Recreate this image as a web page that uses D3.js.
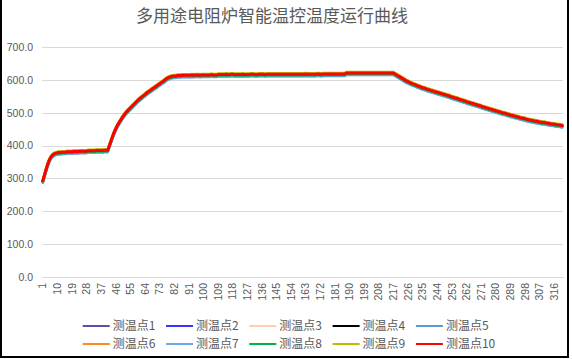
<!DOCTYPE html>
<html><head><meta charset="utf-8">
<script src="https://cdn.jsdelivr.net/npm/d3@7"></script>
<style>html,body{margin:0;padding:0;background:#fff;}svg{display:block;}</style>
</head><body>
<svg id="chart" width="572" height="359"></svg>
<script>
const title = "多用途电阻炉智能温控温度运行曲线";
const categories = d3.range(1, 322);
const xTickLabels = [1,10,19,28,37,46,55,64,73,82,91,100,109,118,127,136,145,154,163,172,181,190,199,208,217,226,235,244,253,262,271,280,289,298,307,316];
const yTicks = [0,100,200,300,400,500,600,700];
const seriesNames = ["测温点1","测温点2","测温点3","测温点4","测温点5","测温点6","测温点7","测温点8","测温点9","测温点10"];
const seriesColors = ["#5E4FA2","#3535FF","#FFCDB5","#000000","#5B9BD5","#FF8C1A","#6FA8E6","#00B050","#BDBD00","#FF0000"];

const t1 = [292,309,326,342,355,364,370,374,376,377,
378,378,379,379,379,380,380,380,380,381,
381,381,381,382,382,382,382,382,383,383,
383,383,383,384,384,384,384,384,385,385,
385,399,413,427,440,451,461,469,477,485,
492,498,504,509,514,519,524,529,534,539,
543,547,551,555,559,563,566,570,573,577,
580,584,587,591,594,598,602,605,607,609,
610,611,611,612,612,612,613,613,613,613,
613,613,614,613,614,614,614,613,614,614,
614,614,614,614,615,614,614,614,615,615,
615,615,615,616,615,615,616,616,615,615,
615,615,615,616,615,615,615,615,616,616,
616,615,615,616,616,616,616,615,616,616,
616,616,616,616,616,616,616,616,616,616,
616,616,616,616,616,616,616,616,616,616,
616,616,617,616,616,616,616,616,616,617,
617,616,616,617,617,617,617,617,617,617,
617,617,617,617,617,617,617,620,620,620,
620,620,620,620,620,620,620,620,620,620,
620,620,620,620,620,620,620,620,620,620,
620,620,620,620,620,620,620,617,614,611,
608,605,602,599,596,594,591,589,587,585,
583,581,579,577,575,574,572,570,569,567,
566,564,563,561,560,558,557,555,554,552,
551,549,547,546,544,543,541,539,538,536,
535,533,531,530,528,527,525,524,522,521,
519,517,516,514,513,511,510,508,507,505,
504,502,501,499,498,497,495,494,492,491,
490,488,487,486,484,483,482,481,479,478,
477,476,475,474,473,472,471,470,469,469,
468,467,466,465,465,464,463,462,462,461,
460];

const t2 = [291,308,325,341,354,363,369,373,375,376,
377,377,378,378,378,379,379,379,379,380,
380,380,380,381,381,381,381,381,382,382,
382,382,382,383,383,383,383,383,384,384,
384,398,412,426,439,450,460,468,476,484,
491,497,503,508,513,518,523,528,533,538,
542,546,550,554,558,562,565,569,572,576,
579,583,586,590,593,597,601,604,606,608,
609,610,610,611,611,611,612,612,612,612,
612,612,613,612,613,613,613,612,613,613,
613,613,613,613,614,613,613,613,614,614,
614,614,614,615,614,614,615,615,614,614,
614,614,614,615,614,614,614,614,615,615,
615,614,614,615,615,615,615,614,615,615,
615,615,615,615,615,615,615,615,615,615,
615,615,615,615,615,615,615,615,615,615,
615,615,616,615,615,615,615,615,615,616,
616,615,615,616,616,616,616,616,616,616,
616,616,616,616,616,616,616,619,619,619,
619,619,619,619,619,619,619,619,619,619,
619,619,619,619,619,619,619,619,619,619,
619,619,619,619,619,619,619,616,613,610,
607,604,601,598,595,593,590,588,586,584,
582,580,578,576,574,573,571,569,568,566,
565,563,562,560,559,557,556,554,553,551,
550,548,546,545,543,542,540,538,537,535,
534,532,530,529,527,526,524,523,521,520,
518,516,515,513,512,510,509,507,506,504,
503,501,500,498,497,496,494,493,491,490,
489,487,486,485,483,482,481,480,478,477,
476,475,474,473,472,471,470,469,468,468,
467,466,465,464,464,463,462,461,461,460,
459];

const t3 = [294,311,328,344,357,366,372,376,378,379,
380,380,381,381,381,382,382,382,382,383,
383,383,383,384,384,384,384,384,385,385,
385,385,385,386,386,386,386,386,387,387,
387,401,415,429,442,453,463,471,479,487,
494,500,506,511,516,521,526,531,536,541,
545,549,553,557,561,565,568,572,575,579,
582,586,589,593,596,600,604,607,609,611,
612,613,613,614,614,614,615,615,615,615,
615,615,616,615,616,616,616,615,616,616,
616,616,616,616,617,616,616,616,617,617,
617,617,617,618,617,617,618,618,617,617,
617,617,617,618,617,617,617,617,618,618,
618,617,617,618,618,618,618,617,618,618,
618,618,618,618,618,618,618,618,618,618,
618,618,618,618,618,618,618,618,618,618,
618,618,619,618,618,618,618,618,618,619,
619,618,618,619,619,619,619,619,619,619,
619,619,619,619,619,619,619,622,622,622,
622,622,622,622,622,622,622,622,622,622,
622,622,622,622,622,622,622,622,622,622,
622,622,622,622,622,622,622,619,616,613,
610,607,604,601,598,596,593,591,589,587,
585,583,581,579,577,576,574,572,571,569,
568,566,565,563,562,560,559,557,556,554,
553,551,549,548,546,545,543,541,540,538,
537,535,533,532,530,529,527,526,524,523,
521,519,518,516,515,513,512,510,509,507,
506,504,503,501,500,499,497,496,494,493,
492,490,489,488,486,485,484,483,481,480,
479,478,477,476,475,474,473,472,471,471,
470,469,468,467,467,466,465,464,464,463,
462];

const t4 = [293,310,327,343,356,365,371,375,377,378,
379,379,380,380,380,381,381,381,381,382,
382,382,382,383,383,383,383,383,384,384,
384,384,384,385,385,385,385,385,386,386,
386,400,414,428,441,452,462,470,478,486,
493,499,505,510,515,520,525,530,535,540,
544,548,552,556,560,564,567,571,574,578,
581,585,588,592,595,599,603,606,608,610,
611,612,612,613,613,613,614,614,614,614,
614,614,615,614,615,615,615,614,615,615,
615,615,615,615,616,615,615,615,616,616,
616,616,616,617,616,616,617,617,616,616,
616,616,616,617,616,616,616,616,617,617,
617,616,616,617,617,617,617,616,617,617,
617,617,617,617,617,617,617,617,617,617,
617,617,617,617,617,617,617,617,617,617,
617,617,618,617,617,617,617,617,617,618,
618,617,617,618,618,618,618,618,618,618,
618,618,618,618,618,618,618,621,621,621,
621,621,621,621,621,621,621,621,621,621,
621,621,621,621,621,621,621,621,621,621,
621,621,621,621,621,621,621,618,615,612,
609,606,603,600,597,595,592,590,588,586,
584,582,580,578,576,575,573,571,570,568,
567,565,564,562,561,559,558,556,555,553,
552,550,548,547,545,544,542,540,539,537,
536,534,532,531,529,528,526,525,523,522,
520,518,517,515,514,512,511,509,508,506,
505,503,502,500,499,498,496,495,493,492,
491,489,488,487,485,484,483,482,480,479,
478,477,476,475,474,473,472,471,470,470,
469,468,467,466,466,465,464,463,463,462,
461];

const t5 = [287,304,321,337,350,359,365,369,371,372,
373,373,374,374,374,375,375,375,375,376,
376,376,376,377,377,377,377,377,378,378,
378,378,378,379,379,379,379,379,380,380,
380,394,408,422,435,446,456,464,472,480,
487,493,499,504,509,514,519,524,529,534,
538,542,546,550,554,558,561,565,568,572,
575,579,582,586,589,593,597,600,602,604,
605,606,606,607,607,607,608,608,608,608,
608,608,609,608,609,609,609,608,609,609,
609,609,609,609,610,609,609,609,610,610,
610,610,610,611,610,610,611,611,610,610,
610,610,610,611,610,610,610,610,611,611,
611,610,610,611,611,611,611,610,611,611,
611,611,611,611,611,611,611,611,611,611,
611,611,611,611,611,611,611,611,611,611,
611,611,612,611,611,611,611,611,611,612,
612,611,611,612,612,612,612,612,612,612,
612,612,612,612,612,612,612,615,615,615,
615,615,615,615,615,615,615,615,615,615,
615,615,615,615,615,615,615,615,615,615,
615,615,615,615,615,615,615,612,609,606,
603,600,597,594,591,589,586,584,582,580,
578,576,574,572,570,569,567,565,564,562,
561,559,558,556,555,553,552,550,549,547,
546,544,542,541,539,538,536,534,533,531,
530,528,526,525,523,522,520,519,517,516,
514,512,511,509,508,506,505,503,502,500,
499,497,496,494,493,492,490,489,487,486,
485,483,482,481,479,478,477,476,474,473,
472,471,470,469,468,467,466,465,464,464,
463,462,461,460,460,459,458,457,457,456,
455];

const t6 = [295,312,329,345,358,367,373,377,379,380,
381,381,382,382,382,383,383,383,383,384,
384,384,384,385,385,385,385,385,386,386,
386,386,386,387,387,387,387,387,388,388,
388,402,416,430,443,454,464,472,480,488,
495,501,507,512,517,522,527,532,537,542,
546,550,554,558,562,566,569,573,576,580,
583,587,590,594,597,601,605,608,610,612,
613,614,614,615,615,615,616,616,616,616,
616,616,617,616,617,617,617,616,617,617,
617,617,617,617,618,617,617,617,618,618,
618,618,618,619,618,618,619,619,618,618,
618,618,618,619,618,618,618,618,619,619,
619,618,618,619,619,619,619,618,619,619,
619,619,619,619,619,619,619,619,619,619,
619,619,619,619,619,619,619,619,619,619,
619,619,620,619,619,619,619,619,619,620,
620,619,619,620,620,620,620,620,620,620,
620,620,620,620,620,620,620,623,623,623,
623,623,623,623,623,623,623,623,623,623,
623,623,623,623,623,623,623,623,623,623,
623,623,623,623,623,623,623,620,617,614,
611,608,605,602,599,597,594,592,590,588,
586,584,582,580,578,577,575,573,572,570,
569,567,566,564,563,561,560,558,557,555,
554,552,550,549,547,546,544,542,541,539,
538,536,534,533,531,530,528,527,525,524,
522,520,519,517,516,514,513,511,510,508,
507,505,504,502,501,500,498,497,495,494,
493,491,490,489,487,486,485,484,482,481,
480,479,478,477,476,475,474,473,472,472,
471,470,469,468,468,467,466,465,465,464,
463];

const t7 = [288,305,322,338,351,360,366,370,372,373,
374,374,375,375,375,376,376,376,376,377,
377,377,377,378,378,378,378,378,379,379,
379,379,379,380,380,380,380,380,381,381,
381,395,409,423,436,447,457,465,473,481,
488,494,500,505,510,515,520,525,530,535,
539,543,547,551,555,559,562,566,569,573,
576,580,583,587,590,594,598,601,603,605,
606,607,607,608,608,608,609,609,609,609,
609,609,610,609,610,610,610,609,610,610,
610,610,610,610,611,610,610,610,611,611,
611,611,611,612,611,611,612,612,611,611,
611,611,611,612,611,611,611,611,612,612,
612,611,611,612,612,612,612,611,612,612,
612,612,612,612,612,612,612,612,612,612,
612,612,612,612,612,612,612,612,612,612,
612,612,613,612,612,612,612,612,612,613,
613,612,612,613,613,613,613,613,613,613,
613,613,613,613,613,613,613,616,616,616,
616,616,616,616,616,616,616,616,616,616,
616,616,616,616,616,616,616,616,616,616,
616,616,616,616,616,616,616,613,610,607,
604,601,598,595,592,590,587,585,583,581,
579,577,575,573,571,570,568,566,565,563,
562,560,559,557,556,554,553,551,550,548,
547,545,543,542,540,539,537,535,534,532,
531,529,527,526,524,523,521,520,518,517,
515,513,512,510,509,507,506,504,503,501,
500,498,497,495,494,493,491,490,488,487,
486,484,483,482,480,479,478,477,475,474,
473,472,471,470,469,468,467,466,465,465,
464,463,462,461,461,460,459,458,458,457,
456];

const t8 = [290,307,324,340,353,362,368,372,374,375,
376,376,377,377,377,378,378,378,378,379,
379,379,379,380,380,380,380,380,381,381,
381,381,381,382,382,382,382,382,383,383,
383,397,411,425,438,449,459,467,475,483,
490,496,502,507,512,517,522,527,532,537,
541,545,549,553,557,561,564,568,571,575,
578,582,585,589,592,596,600,603,605,607,
608,609,609,610,610,610,611,611,611,611,
611,611,612,611,612,612,612,611,612,612,
612,612,612,612,613,612,612,612,613,613,
613,613,613,614,613,613,614,614,613,613,
613,613,613,614,613,613,613,613,614,614,
614,613,613,614,614,614,614,613,614,614,
614,614,614,614,614,614,614,614,614,614,
614,614,614,614,614,614,614,614,614,614,
614,614,615,614,614,614,614,614,614,615,
615,614,614,615,615,615,615,615,615,615,
615,615,615,615,615,615,615,618,618,618,
618,618,618,618,618,618,618,618,618,618,
618,618,618,618,618,618,618,618,618,618,
618,618,618,618,618,618,618,615,612,609,
606,603,600,597,594,592,589,587,585,583,
581,579,577,575,573,572,570,568,567,565,
564,562,561,559,558,556,555,553,552,550,
549,547,545,544,542,541,539,537,536,534,
533,531,529,528,526,525,523,522,520,519,
517,515,514,512,511,509,508,506,505,503,
502,500,499,497,496,495,493,492,490,489,
488,486,485,484,482,481,480,479,477,476,
475,474,473,472,471,470,469,468,467,467,
466,465,464,463,463,462,461,460,460,459,
458];

const t9 = [296,313,330,346,359,368,374,378,380,381,
382,382,383,383,383,384,384,384,384,385,
385,385,385,386,386,386,386,386,387,387,
387,387,387,388,388,388,388,388,389,389,
389,403,417,431,444,455,465,473,481,489,
496,502,508,513,518,523,528,533,538,543,
547,551,555,559,563,567,570,574,577,581,
584,588,591,595,598,602,606,609,611,613,
614,615,615,616,616,616,617,617,617,617,
617,617,618,617,618,618,618,617,618,618,
618,618,618,618,619,618,618,618,619,619,
619,619,619,620,619,619,620,620,619,619,
619,619,619,620,619,619,619,619,620,620,
620,619,619,620,620,620,620,619,620,620,
620,620,620,620,620,620,620,620,620,620,
620,620,620,620,620,620,620,620,620,620,
620,620,621,620,620,620,620,620,620,621,
621,620,620,621,621,621,621,621,621,621,
621,621,621,621,621,621,621,624,624,624,
624,624,624,624,624,624,624,624,624,624,
624,624,624,624,624,624,624,624,624,624,
624,624,624,624,624,624,624,621,618,615,
612,609,606,603,600,598,595,593,591,589,
587,585,583,581,579,578,576,574,573,571,
570,568,567,565,564,562,561,559,558,556,
555,553,551,550,548,547,545,543,542,540,
539,537,535,534,532,531,529,528,526,525,
523,521,520,518,517,515,514,512,511,509,
508,506,505,503,502,501,499,498,496,495,
494,492,491,490,488,487,486,485,483,482,
481,480,479,478,477,476,475,474,473,473,
472,471,470,469,469,468,467,466,466,465,
464];

const t10 = [293,310,327,343,356,365,371,375,377,378,
379,379,380,380,380,381,381,381,381,382,
382,382,382,383,383,383,383,383,384,384,
384,384,384,385,385,385,385,385,386,386,
386,400,414,428,441,452,462,470,478,486,
493,499,505,510,515,520,525,530,535,540,
544,548,552,556,560,564,567,571,574,578,
581,585,588,592,595,599,603,606,608,610,
611,612,612,613,613,613,614,614,614,614,
614,614,615,614,615,615,615,614,615,615,
615,615,615,615,616,615,615,615,616,616,
616,616,616,617,616,616,617,617,616,616,
616,616,616,617,616,616,616,616,617,617,
617,616,616,617,617,617,617,616,617,617,
617,617,617,617,617,617,617,617,617,617,
617,617,617,617,617,617,617,617,617,617,
617,617,618,617,617,617,617,617,617,618,
618,617,617,618,618,618,618,618,618,618,
618,618,618,618,618,618,618,621,621,621,
621,621,621,621,621,621,621,621,621,621,
621,621,621,621,621,621,621,621,621,621,
621,621,621,621,621,621,621,618,615,612,
609,606,603,600,597,595,592,590,588,586,
584,582,580,578,576,575,573,571,570,568,
567,565,564,562,561,559,558,556,555,553,
552,550,548,547,545,544,542,540,539,537,
536,534,532,531,529,528,526,525,523,522,
520,518,517,515,514,512,511,509,508,506,
505,503,502,500,499,498,496,495,493,492,
491,489,488,487,485,484,483,482,480,479,
478,477,476,475,474,473,472,471,470,470,
469,468,467,466,466,465,464,463,463,462,
461];

const seriesValues = [t1,t2,t3,t4,t5,t6,t7,t8,t9,t10];

const svg = d3.select("#chart");
const W = 572, H = 359;
const plot = {left: 42, right: 563, top: 47, bottom: 277};
const txt = "#595959";
const font = "'Liberation Sans', Arial, sans-serif";
const cjk = "'Noto Sans CJK SC', sans-serif";

svg.append("rect").attr("width", W).attr("height", H).attr("fill", "#fff");

const x = d3.scaleBand().domain(categories).range([plot.left, plot.right]).padding(0);
const y = d3.scaleLinear().domain([0, 700]).range([plot.bottom, plot.top]);
const cx = d => x(d) + x.bandwidth() / 2;

// gridlines
const grid = svg.append("g").attr("transform", `translate(${plot.left},0)`)
  .call(d3.axisLeft(y).tickValues(yTicks).tickSize(-(plot.right - plot.left)).tickFormat(""));
grid.select(".domain").remove();
grid.selectAll("line").attr("stroke", "#D9D9D9").attr("stroke-width", 1).attr("shape-rendering", "crispEdges");

// y axis labels
const ya = svg.append("g").attr("transform", `translate(${plot.left},0)`)
  .call(d3.axisLeft(y).tickValues(yTicks).tickSize(0).tickPadding(9).tickFormat(d3.format(".1f")));
ya.select(".domain").remove();
ya.selectAll("text").attr("fill", txt).style("font-family", font).style("font-size", "10.5px");

// x axis
const xa = svg.append("g").attr("transform", `translate(0,${plot.bottom})`)
  .call(d3.axisBottom(x).tickValues(xTickLabels).tickSize(0));
xa.select(".domain").attr("stroke", "#D9D9D9").attr("shape-rendering", "crispEdges");
xa.selectAll("text")
  .attr("transform", "rotate(-90)")
  .attr("x", -6).attr("y", 0).attr("dy", "0.35em")
  .style("text-anchor", "end")
  .attr("fill", txt).style("font-family", font).style("font-size", "10.5px");

// lines
const line = d3.line().x((v, i) => cx(categories[i])).y(v => y(v));
svg.append("g").selectAll("path").data(seriesValues).join("path")
  .attr("d", d => line(d))
  .attr("fill", "none")
  .attr("stroke", (d, i) => seriesColors[i])
  .attr("stroke-width", (d, i) => i === 9 ? 3 : 2.5)
  .attr("stroke-linejoin", "round")
  .attr("stroke-linecap", "round");

// title
svg.append("text").attr("x", 272).attr("y", 22).attr("text-anchor", "middle")
  .attr("fill", txt).style("font-family", cjk).style("font-size", "17px").text(title);

// legend
const lg = svg.append("g");
seriesNames.forEach((name, i) => {
  const col = i % 5, row = Math.floor(i / 5);
  const lx = 82.7 + col * 83.3, ly = 326 + row * 18;
  lg.append("line").attr("x1", lx).attr("x2", lx + 27).attr("y1", ly).attr("y2", ly)
    .attr("stroke", seriesColors[i]).attr("stroke-width", 2);
  lg.append("text").attr("x", lx + 30).attr("y", ly).attr("dy", "0.35em")
    .attr("fill", txt).style("font-family", cjk).style("font-size", "12px").text(name);
});

// frame
svg.append("rect").attr("x", 0).attr("y", 0).attr("width", 2).attr("height", 358).attr("fill", "#000");
svg.append("rect").attr("x", 567).attr("y", 0).attr("width", 2).attr("height", 358).attr("fill", "#000");
svg.append("rect").attr("x", 0).attr("y", 356).attr("width", 569).attr("height", 2).attr("fill", "#000");
</script>
</body></html>
